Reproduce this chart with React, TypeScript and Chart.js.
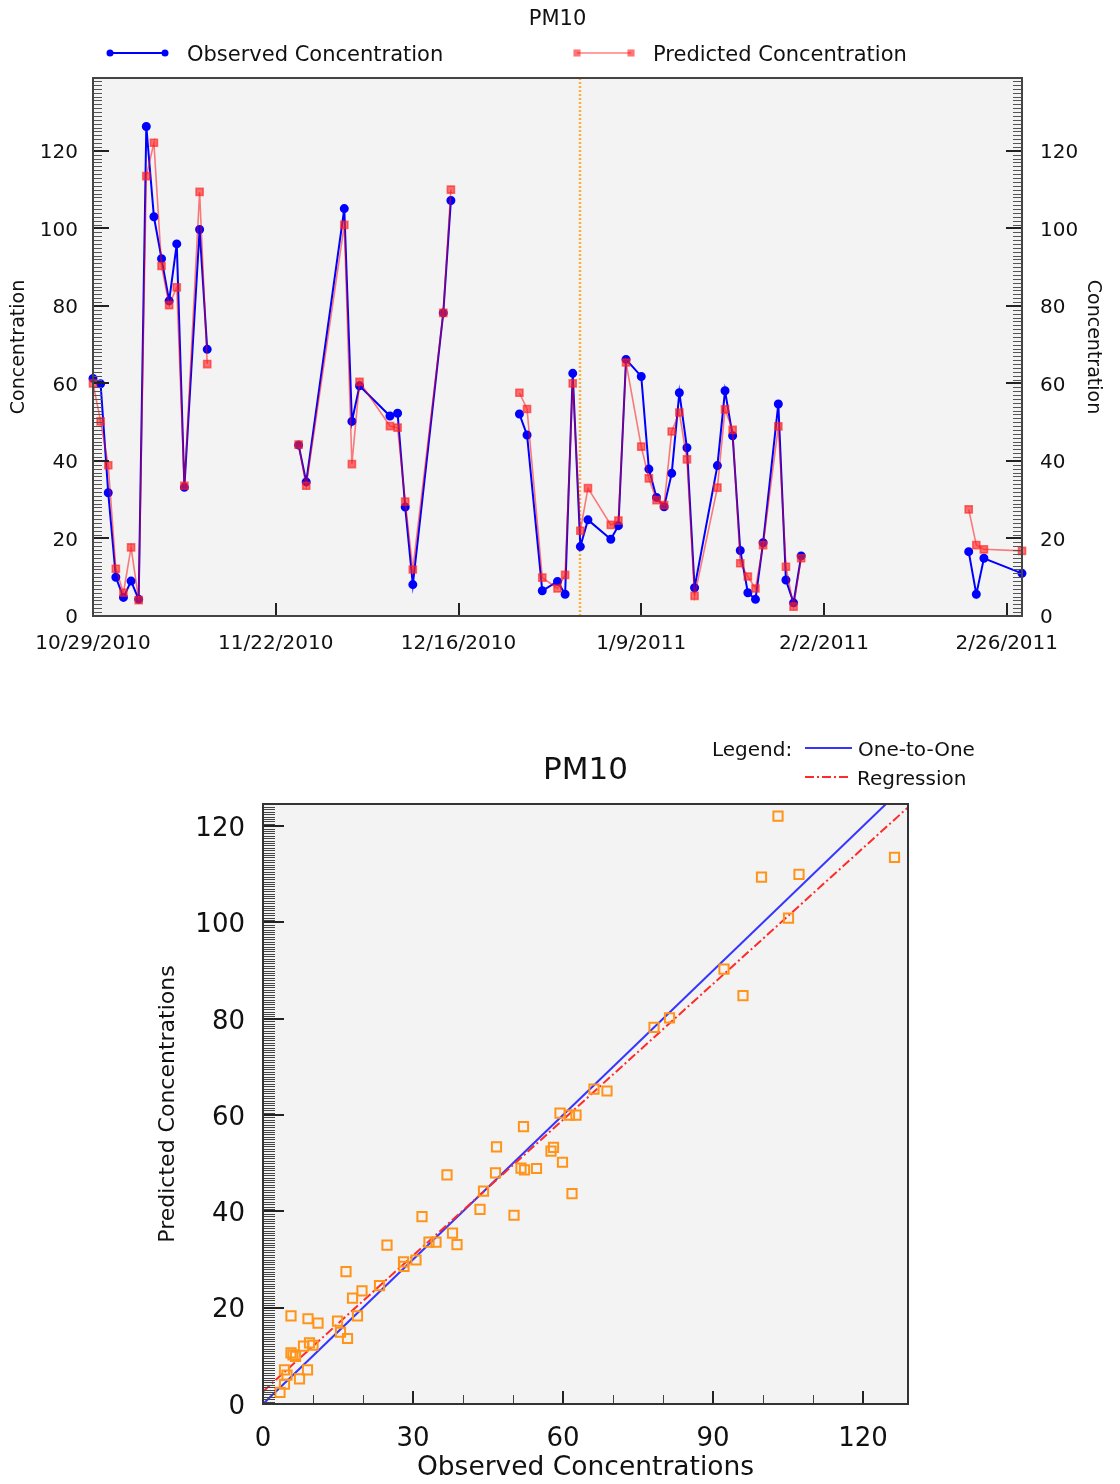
import React, { useEffect, useRef } from "react";
import { Chart, registerables } from "chart.js";

Chart.register(...registerables);
Chart.defaults.font.family = "DejaVu Sans";
Chart.defaults.color = "#111";

// ---------- Time series data (PM10) ----------
const START_DATE = "10/29/2010";
const END_DATE = "2/28/2011";
const SPLIT_DATE = "1/1/2011";

const DATES = [
  "10/29/2010", "10/30/2010", "10/31/2010", "11/1/2010", "11/2/2010", "11/3/2010", "11/4/2010",
  "11/5/2010", "11/6/2010", "11/7/2010", "11/8/2010", "11/9/2010", "11/10/2010", "11/12/2010", "11/13/2010",
  "11/25/2010", "11/26/2010", "12/1/2010", "12/2/2010", "12/3/2010", "12/7/2010", "12/8/2010", "12/9/2010",
  "12/10/2010", "12/14/2010", "12/15/2010",
  "12/24/2010", "12/25/2010", "12/27/2010", "12/29/2010", "12/30/2010", "12/31/2010", "1/1/2011",
  "1/2/2011", "1/5/2011", "1/6/2011", "1/7/2011",
  "1/9/2011", "1/10/2011", "1/11/2011", "1/12/2011", "1/13/2011", "1/14/2011", "1/15/2011", "1/16/2011",
  "1/19/2011", "1/20/2011", "1/21/2011", "1/22/2011", "1/23/2011", "1/24/2011", "1/25/2011",
  "1/27/2011", "1/28/2011", "1/29/2011", "1/30/2011",
  "2/21/2011", "2/22/2011", "2/23/2011", "2/28/2011",
];

const OBSERVED = [
  61.3, 59.9, 31.8, 10.0, 4.8, 9.0, 4.3, 126.3, 103.0, 92.2, 81.3, 96.0, 33.2, 99.7, 68.8,
  44.1, 34.6, 105.1, 50.2, 59.4, 51.6, 52.3, 28.1, 8.1, 78.2, 107.2,
  52.1, 46.7, 6.5, 8.9, 5.6, 62.6, 17.9, 24.8, 19.8, 23.3, 66.2,
  61.8, 37.9, 30.6, 28.2, 36.8, 57.6, 43.4, 7.3,
  38.8, 58.1, 46.5, 16.9, 6.0, 4.3, 18.9,
  54.7, 9.3, 3.4, 15.5,
  16.6, 5.6, 14.9, 11.0,
];

const PREDICTED = [
  60.0, 50.2, 38.9, 12.2, 6.0, 17.7, 4.1, 113.5, 122.1, 90.3, 80.2, 84.8, 33.6, 109.4, 65.0,
  44.2, 33.6, 100.9, 39.2, 60.4, 49.0, 48.6, 29.5, 12.0, 78.2, 110.0,
  57.6, 53.4, 9.9, 7.1, 10.6, 60.0, 22.0, 33.0, 23.5, 24.6, 65.4,
  43.7, 35.5, 29.9, 28.6, 47.6, 52.5, 40.4, 5.2,
  33.1, 53.3, 48.0, 13.6, 10.2, 7.1, 18.3,
  48.9, 12.7, 2.4, 14.9,
  27.5, 18.3, 17.2, 16.8,
];

const DATE_TICKS = ["10/29/2010", "11/22/2010", "12/16/2010", "1/9/2011", "2/2/2011", "2/26/2011"];
const CONC_TICKS = [0, 20, 40, 60, 80, 100, 120];
const CONC_MAX = 138.8;
const MAX_GAP_DAYS = 8;

// ---------- Scatter (observed vs predicted) ----------
const SCATTER_X_TICKS = [0, 30, 60, 90, 120];
const SCATTER_Y_TICKS = [0, 20, 40, 60, 80, 100, 120];
const SCATTER_X_MAX = 129;
const SCATTER_Y_MAX = 124.6;
const ONE_TO_ONE_X = [0, 129];
const ONE_TO_ONE_Y = [0, 129];
const REGRESSION_X = [0, 129];
const REGRESSION_Y = [2.6, 123.9];

const dayOffset = (s: string) => {
  const [m, d, y] = s.split("/").map(Number);
  const [m0, d0, y0] = START_DATE.split("/").map(Number);
  return Math.round((Date.UTC(y, m - 1, d) - Date.UTC(y0, m0 - 1, d0)) / 86400000);
};

// ---------- plugins (config captured in closures) ----------
type TickSpec = {
  axis: string;
  side: "left" | "right" | "bottom";
  minor?: number;
  major?: number;
  values?: number[];
  minorLen?: number;
  majorLen: number;
};

const makeFramePlugin = (cfg: {
  background: string;
  borderColor: string;
  borderWidth: number;
  majorColor: string;
  minorColor: string;
  ticks: TickSpec[];
}) => ({
  id: "frame",
  beforeDraw(chart: any) {
    const { ctx, chartArea: a } = chart;
    ctx.save();
    ctx.fillStyle = cfg.background;
    ctx.fillRect(a.left, a.top, a.right - a.left, a.bottom - a.top);
    ctx.restore();
  },
  afterDraw(chart: any) {
    const { ctx, chartArea: a } = chart;
    ctx.save();
    for (const t of cfg.ticks) {
      const s = chart.scales[t.axis];
      const vals: { v: number; major: boolean }[] = [];
      if (t.values) {
        for (const v of t.values) vals.push({ v, major: true });
      } else {
        const major = t.major as number;
        const step = t.minor || major;
        const n = Math.floor((s.max - s.min) / step + 1e-6);
        for (let i = 0; i <= n; i++) {
          const v = s.min + i * step;
          vals.push({ v, major: Math.abs(v / major - Math.round(v / major)) < 1e-6 });
        }
      }
      for (const { v, major } of vals) {
        const p = s.getPixelForValue(v);
        const len = major ? t.majorLen : t.minorLen || 0;
        ctx.beginPath();
        ctx.lineWidth = major ? 2 : 1;
        ctx.strokeStyle = major ? cfg.majorColor : cfg.minorColor;
        const pp = major ? Math.round(p) : Math.round(p) + 0.5;
        if (t.side === "left") {
          ctx.moveTo(a.left, pp);
          ctx.lineTo(a.left + len, pp);
        } else if (t.side === "right") {
          ctx.moveTo(a.right, pp);
          ctx.lineTo(a.right - len, pp);
        } else {
          ctx.moveTo(pp, a.bottom);
          ctx.lineTo(pp, a.bottom - len);
        }
        ctx.stroke();
      }
    }
    ctx.lineWidth = cfg.borderWidth;
    ctx.strokeStyle = cfg.borderColor;
    ctx.strokeRect(a.left, a.top, a.right - a.left, a.bottom - a.top);
    ctx.restore();
  },
});

const makeMarkerLinePlugin = (cfg: { axis: string; value: number; color: string; width: number; dash: number[] }) => ({
  id: "markerLine",
  beforeDatasetsDraw(chart: any) {
    const { ctx, chartArea: a } = chart;
    const s = chart.scales[cfg.axis];
    const x = Math.round(s.getPixelForValue(cfg.value));
    ctx.save();
    ctx.strokeStyle = cfg.color;
    ctx.lineWidth = cfg.width;
    ctx.setLineDash(cfg.dash);
    ctx.beginPath();
    ctx.moveTo(x, a.top);
    ctx.lineTo(x, a.bottom);
    ctx.stroke();
    ctx.restore();
  },
});

const drawMarker = (ctx: any, ds: any, x: number, y: number) => {
  const r = ds.pointRadius || 3;
  ctx.fillStyle = ds.pointBackgroundColor || ds.backgroundColor;
  ctx.beginPath();
  if (ds.pointStyle === "rect") {
    const h = r * Math.SQRT1_2;
    ctx.rect(x - h, y - h, 2 * h, 2 * h);
  } else {
    ctx.arc(x, y, r, 0, Math.PI * 2);
  }
  ctx.fill();
};

type LegendItem = { datasetIndex: number; x: number; y: number; len: number; textX: number; markers: boolean };

const makeLineLegendPlugin = (cfg: {
  font: string;
  color: string;
  textDy: number;
  heading?: { text: string; x: number; y: number };
  items: LegendItem[];
}) => ({
  id: "lineLegend",
  afterDraw(chart: any) {
    const ctx = chart.ctx;
    ctx.save();
    ctx.font = cfg.font;
    ctx.textBaseline = "middle";
    ctx.textAlign = "left";
    ctx.fillStyle = cfg.color;
    if (cfg.heading) ctx.fillText(cfg.heading.text, cfg.heading.x, cfg.heading.y + cfg.textDy);
    for (const it of cfg.items) {
      const ds = chart.data.datasets[it.datasetIndex];
      ctx.save();
      ctx.strokeStyle = ds.borderColor;
      ctx.lineWidth = ds.borderWidth;
      ctx.setLineDash(ds.borderDash || []);
      ctx.beginPath();
      ctx.moveTo(it.x, it.y);
      ctx.lineTo(it.x + it.len, it.y);
      ctx.stroke();
      ctx.setLineDash([]);
      if (it.markers) {
        drawMarker(ctx, ds, it.x, it.y);
        drawMarker(ctx, ds, it.x + it.len, it.y);
      }
      ctx.restore();
      ctx.fillStyle = cfg.color;
      ctx.fillText(ds.label, it.textX, it.y + cfg.textDy);
    }
    ctx.restore();
  },
});

export default function App() {
  const topRef = useRef<HTMLCanvasElement | null>(null);
  const botRef = useRef<HTMLCanvasElement | null>(null);

  useEffect(() => {
    const obsPts = DATES.map((d, i) => ({ x: dayOffset(d), y: OBSERVED[i] }));
    const predPts = DATES.map((d, i) => ({ x: dayOffset(d), y: PREDICTED[i] }));
    const tickDays = DATE_TICKS.map(dayOffset);

    const top = new Chart(topRef.current as HTMLCanvasElement, {
      type: "line",
      data: {
        datasets: [
          {
            label: "Observed Concentration",
            data: obsPts,
            borderColor: "#0000ff",
            backgroundColor: "#0000ff",
            pointBackgroundColor: "#0000ff",
            pointBorderColor: "#0000ff",
            borderWidth: 2,
            pointRadius: 3.5,
            pointStyle: "circle",
            spanGaps: MAX_GAP_DAYS,
            clip: false,
            order: 1,
          } as any,
          {
            label: "Predicted Concentration",
            data: predPts,
            borderColor: "rgba(255,0,0,0.5)",
            backgroundColor: "rgba(255,30,30,0.62)",
            pointBackgroundColor: "rgba(255,30,30,0.62)",
            pointBorderColor: "rgba(255,30,30,0.62)",
            borderWidth: 1.6,
            pointRadius: 5,
            pointStyle: "rect",
            spanGaps: MAX_GAP_DAYS,
            clip: false,
            order: 0,
          } as any,
        ],
      },
      options: {
        animation: false,
        responsive: false,
        events: [],
        layout: { padding: 0 },
        plugins: {
          legend: { display: false },
          tooltip: { enabled: false },
          title: {
            display: true,
            text: "PM10",
            fullSize: false,
            color: "#111",
            font: { size: 21, weight: "normal", lineHeight: 1 },
            padding: { top: 9.5, bottom: 47.5 },
          },
        },
        scales: {
          x: {
            type: "linear",
            min: 0,
            max: dayOffset(END_DATE),
            grid: { display: false, drawTicks: false },
            border: { display: false },
            afterBuildTicks: (s: any) => {
              s.ticks = tickDays.map((value) => ({ value }));
            },
            afterFit: (s: any) => {
              s.height = 52;
            },
            ticks: {
              autoSkip: false,
              maxRotation: 0,
              padding: 16,
              font: { size: 20 },
              color: "#111",
              callback: (v: any) => {
                const i = tickDays.indexOf(Number(v));
                return i >= 0 ? DATE_TICKS[i] : "";
              },
            },
          },
          y: {
            type: "linear",
            position: "left",
            min: 0,
            max: CONC_MAX,
            grid: { display: false, drawTicks: false },
            border: { display: false },
            afterBuildTicks: (s: any) => {
              s.ticks = CONC_TICKS.map((value) => ({ value }));
            },
            afterFit: (s: any) => {
              s.width = 93;
            },
            ticks: { padding: 15, labelOffset: 2, font: { size: 20 }, color: "#111" },
            title: {
              display: true,
              text: "Concentration",
              color: "#111",
              font: { size: 19 },
              padding: { top: 7.2, bottom: 0 },
            },
          },
          y2: {
            type: "linear",
            position: "right",
            min: 0,
            max: CONC_MAX,
            grid: { display: false, drawTicks: false },
            border: { display: false },
            afterBuildTicks: (s: any) => {
              s.ticks = CONC_TICKS.map((value) => ({ value }));
            },
            afterFit: (s: any) => {
              s.width = 98;
            },
            ticks: { padding: 18, labelOffset: 2, font: { size: 20 }, color: "#111" },
            title: {
              display: true,
              text: "Concentration",
              color: "#111",
              font: { size: 19 },
              padding: { top: 15.6, bottom: 0 },
            },
          },
        },
      } as any,
      plugins: [
        makeFramePlugin({
          background: "#f3f3f3",
          borderColor: "#444",
          borderWidth: 2,
          majorColor: "#222",
          minorColor: "#555",
          ticks: [
            { axis: "y", side: "left", minor: 1, major: 20, minorLen: 9, majorLen: 16 },
            { axis: "y2", side: "right", minor: 1, major: 20, minorLen: 9, majorLen: 16 },
            { axis: "x", side: "bottom", values: tickDays, majorLen: 13 },
          ],
        }),
        makeMarkerLinePlugin({ axis: "x", value: dayOffset(SPLIT_DATE), color: "#f6b13d", width: 2.5, dash: [2, 2] }),
        makeLineLegendPlugin({
          font: "21px 'DejaVu Sans'",
          color: "#111",
          textDy: 2.5,
          items: [
            { datasetIndex: 0, x: 110, y: 53, len: 55, textX: 187, markers: true },
            { datasetIndex: 1, x: 577, y: 53, len: 54, textX: 653, markers: true },
          ],
        }),
      ],
    });

    const pairs = OBSERVED.map((o, i) => ({ x: o, y: PREDICTED[i] }));
    const oneToOne = ONE_TO_ONE_X.map((x, i) => ({ x, y: ONE_TO_ONE_Y[i] }));
    const regression = REGRESSION_X.map((x, i) => ({ x, y: REGRESSION_Y[i] }));

    const bot = new Chart(botRef.current as HTMLCanvasElement, {
      type: "scatter",
      data: {
        datasets: [
          {
            label: "Observed vs Predicted",
            data: pairs,
            pointStyle: "rect",
            pointRadius: 6.5,
            pointBorderWidth: 2,
            borderColor: "#ff9419",
            pointBorderColor: "#ff9419",
            backgroundColor: "rgba(0,0,0,0)",
            pointBackgroundColor: "rgba(0,0,0,0)",
            order: 0,
          } as any,
          {
            label: "One-to-One",
            data: oneToOne,
            showLine: true,
            borderColor: "#3535ff",
            borderWidth: 2,
            pointRadius: 0,
            order: 2,
          } as any,
          {
            label: "Regression",
            data: regression,
            showLine: true,
            borderColor: "#ff2a2a",
            borderWidth: 2,
            borderDash: [9, 3, 2, 3],
            pointRadius: 0,
            order: 1,
          } as any,
        ],
      },
      options: {
        animation: false,
        responsive: false,
        events: [],
        layout: { padding: { left: 0, right: 212, top: 0, bottom: 0 } },
        plugins: {
          legend: { display: false },
          tooltip: { enabled: false },
          title: {
            display: true,
            text: "PM10",
            fullSize: false,
            color: "#111",
            font: { size: 31, weight: "normal", lineHeight: 1 },
            padding: { top: 87.5, bottom: 17.5 },
          },
        },
        scales: {
          x: {
            type: "linear",
            min: 0,
            max: SCATTER_X_MAX,
            grid: { display: false, drawTicks: false },
            border: { display: false },
            afterBuildTicks: (s: any) => {
              s.ticks = SCATTER_X_TICKS.map((value) => ({ value }));
            },
            afterFit: (s: any) => {
              s.height = 80;
            },
            ticks: { autoSkip: false, maxRotation: 0, padding: 20, font: { size: 26 }, color: "#111" },
            title: {
              display: true,
              text: "Observed Concentrations",
              color: "#111",
              font: { size: 26.5 },
              padding: { top: 0, bottom: 0 },
            },
          },
          y: {
            type: "linear",
            min: 0,
            max: SCATTER_Y_MAX,
            grid: { display: false, drawTicks: false },
            border: { display: false },
            afterBuildTicks: (s: any) => {
              s.ticks = SCATTER_Y_TICKS.map((value) => ({ value }));
            },
            afterFit: (s: any) => {
              s.width = 263;
            },
            ticks: { padding: 18, labelOffset: 3, font: { size: 26 }, color: "#111" },
            title: {
              display: true,
              text: "Predicted Concentrations",
              color: "#111",
              font: { size: 22 },
              padding: { top: 155.5, bottom: 0 },
            },
          },
        },
      } as any,
      plugins: [
        makeFramePlugin({
          background: "#f3f3f3",
          borderColor: "#333",
          borderWidth: 2,
          majorColor: "#222",
          minorColor: "#444",
          ticks: [
            { axis: "y", side: "left", minor: 0.5, major: 20, minorLen: 12, majorLen: 21 },
            { axis: "x", side: "bottom", minor: 10, major: 30, minorLen: 9, majorLen: 13 },
          ],
        }),
        makeLineLegendPlugin({
          font: "20px 'DejaVu Sans'",
          color: "#111",
          textDy: 2.5,
          heading: { text: "Legend:", x: 712, y: 80 },
          items: [
            { datasetIndex: 1, x: 805, y: 80, len: 47, textX: 858, markers: false },
            { datasetIndex: 2, x: 805, y: 109, len: 45, textX: 857, markers: false },
          ],
        }),
      ],
    });

    return () => {
      top.destroy();
      bot.destroy();
    };
  }, []);

  return (
    <div style={{ position: "absolute", left: 0, top: 0, width: 1120, height: 1484, background: "#fff", overflow: "hidden" }}>
      <canvas ref={topRef} width={1120} height={668} style={{ position: "absolute", left: 0, top: 0, display: "block" }} />
      <canvas ref={botRef} width={1120} height={816} style={{ position: "absolute", left: 0, top: 668, display: "block" }} />
    </div>
  );
}
